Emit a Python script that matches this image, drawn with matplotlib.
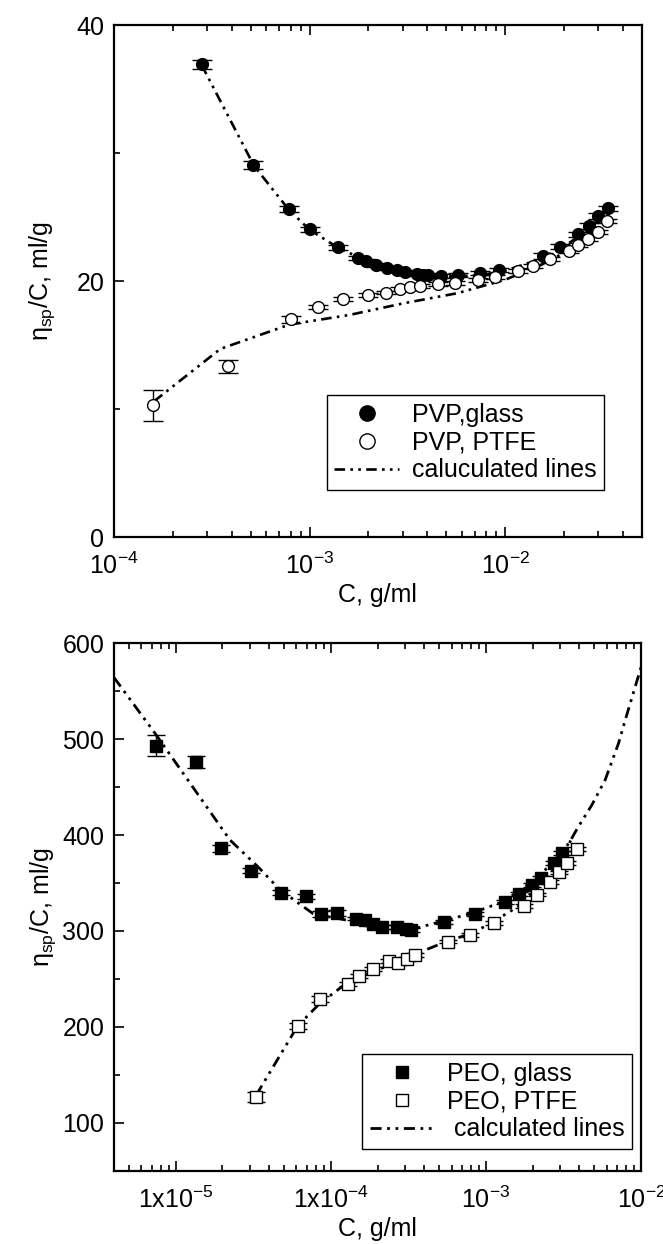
"""
Reduced viscosity vs concentration for PVP and PEO on glass and PTFE.
Two stacked log-x panels, saved as out.png.
"""
import numpy as np
import matplotlib
matplotlib.use("Agg")
import matplotlib.pyplot as plt
from matplotlib.lines import Line2D
from matplotlib.ticker import FixedLocator, LogLocator, MultipleLocator, NullFormatter

plt.rcParams["font.family"] = ["Liberation Sans", "DejaVu Sans"]
plt.rcParams["mathtext.fontset"] = "custom"
plt.rcParams["mathtext.rm"] = "Liberation Sans"
plt.rcParams["mathtext.it"] = "Liberation Sans:italic"
plt.rcParams["mathtext.default"] = "regular"

# ---- top panel: PVP ----
pvp_glass_c = [2.81e-4, 5.16e-4, 7.83e-4, 1.01e-3, 1.39e-3, 1.76e-3, 1.94e-3, 2.19e-3,
               2.50e-3, 2.79e-3, 3.08e-3, 3.53e-3, 3.82e-3, 4.05e-3, 4.71e-3, 5.73e-3,
               7.45e-3, 9.35e-3, 1.56e-2, 1.91e-2, 2.37e-2, 2.70e-2, 3.00e-2, 3.35e-2]
pvp_glass_v = [36.95, 29.06, 25.63, 24.04, 22.63, 21.82, 21.56, 21.25,
               21.04, 20.86, 20.68, 20.52, 20.47, 20.45, 20.39, 20.45,
               20.60, 20.86, 21.95, 22.68, 23.65, 24.30, 25.08, 25.68]
pvp_glass_err = [0.35, 0.3, 0.2, 0.2, 0.2, 0.15, 0.15, 0.15,
                 0.15, 0.15, 0.15, 0.15, 0.15, 0.15, 0.15, 0.15,
                 0.15, 0.15, 0.2, 0.2, 0.2, 0.2, 0.2, 0.2]

pvp_ptfe_c = [1.59e-4, 3.83e-4, 8.0e-4, 1.10e-3, 1.49e-3, 2.0e-3, 2.47e-3, 2.90e-3,
              3.27e-3, 3.65e-3, 4.56e-3, 5.55e-3, 7.25e-3, 8.85e-3, 1.17e-2, 1.39e-2,
              1.70e-2, 2.11e-2, 2.37e-2, 2.65e-2, 3.00e-2, 3.33e-2]
pvp_ptfe_v = [10.3, 13.35, 17.0, 17.95, 18.6, 18.9, 19.1, 19.35,
              19.5, 19.6, 19.75, 19.87, 20.08, 20.29, 20.8, 21.17,
              21.7, 22.37, 22.81, 23.26, 23.85, 24.71]
pvp_ptfe_err = [1.2, 0.5, 0.25, 0.15, 0.15, 0.15, 0.15, 0.15,
                0.15, 0.15, 0.15, 0.15, 0.15, 0.15, 0.15, 0.15,
                0.15, 0.15, 0.15, 0.15, 0.15, 0.15]

pvp_calc_glass_c = [2.8e-4, 5.2e-4, 7.8e-4, 1.0e-3, 1.4e-3, 2.0e-3, 3.0e-3, 5.0e-3,
                    7.5e-3, 1.0e-2, 1.5e-2, 2.0e-2, 2.5e-2, 3.0e-2, 3.4e-2]
pvp_calc_glass_v = [36.9, 29.0, 25.6, 24.0, 22.6, 21.5, 20.75, 20.35,
                    20.45, 20.8, 21.7, 22.7, 23.7, 24.7, 25.6]
pvp_calc_ptfe_c = [1.6e-4, 3.5e-4, 7.9e-4, 1.6e-3, 3.0e-3, 5.7e-3, 1.0e-2, 1.5e-2,
                   2.0e-2, 2.5e-2, 3.3e-2]
pvp_calc_ptfe_v = [10.6, 14.7, 16.6, 17.35, 18.25, 19.05, 20.1, 21.2,
                   22.2, 23.2, 24.7]

# ---- bottom panel: PEO ----
peo_glass_c = [7.5e-6, 1.35e-5, 1.95e-5, 3.05e-5, 4.8e-5, 6.9e-5, 8.65e-5, 1.1e-4,
               1.46e-4, 1.65e-4, 1.88e-4, 2.13e-4, 2.65e-4, 3.04e-4, 3.3e-4, 5.35e-4,
               8.5e-4, 1.33e-3, 1.63e-3, 1.97e-3, 2.25e-3, 2.75e-3, 3.11e-3]
peo_glass_v = [493, 476, 386, 363, 340, 336, 318, 319,
               313, 311, 307, 304, 304, 302, 301, 309,
               318, 330, 338.5, 348, 355.5, 371, 381]
peo_glass_err = [11, 6, 4, 3, 3, 3, 3, 3,
                 2, 2, 2, 2, 2, 2, 2, 2,
                 2, 2, 2, 2, 2, 2, 2]

peo_ptfe_c = [3.27e-5, 6.1e-5, 8.5e-5, 1.28e-4, 1.51e-4, 1.88e-4, 2.36e-4, 2.71e-4,
              3.1e-4, 3.46e-4, 5.65e-4, 7.9e-4, 1.12e-3, 1.75e-3, 2.12e-3, 2.59e-3,
              2.97e-3, 3.35e-3, 3.88e-3]
peo_ptfe_v = [127, 201, 229, 245, 253, 260, 268.5, 266.3,
              271, 275, 289, 296, 308.5, 326, 338, 351,
              361, 371, 385]
peo_ptfe_err = [5.5, 3, 3, 2, 2, 2, 2, 2,
                2, 2, 2, 2, 2, 2, 2, 2,
                2, 2, 2]

peo_calc_glass_c = [4e-6, 7.5e-6, 2.23e-5, 3.48e-5, 4.69e-5, 7.69e-5, 1.5e-4, 3.57e-4,
                    7.9e-4, 1.29e-3, 1.92e-3, 3.0e-3, 3.57e-3, 3.94e-3, 4.81e-3, 5.86e-3,
                    7.15e-3, 7.9e-3, 1.0e-2]
peo_calc_glass_v = [564, 504, 395, 365, 343, 318, 309, 303,
                    318, 330.5, 349.7, 377.4, 396.6, 408.7, 431.2, 457.3,
                    495.5, 519.8, 575]
peo_calc_ptfe_c = [3.3e-5, 6.1e-5, 8.5e-5, 1.26e-4, 3.38e-4, 5.88e-4, 8.2e-4, 1.2e-3,
                   1.67e-3, 2.45e-3, 3.14e-3, 3.57e-3]
peo_calc_ptfe_v = [129, 201, 224.7, 245.5, 275, 290.6, 297.6, 313,
                   327, 356.6, 377.4, 396.6]

CALC_DASH = (4, 2, 1, 2, 1, 2)
FS = 18


def style_axes(ax, xlim, ylim, ymajor, yminor):
    ax.set_xscale("log")
    ax.set_xlim(*xlim)
    ax.set_ylim(*ylim)
    ax.yaxis.set_major_locator(MultipleLocator(ymajor))
    ax.yaxis.set_minor_locator(MultipleLocator(yminor))
    ax.xaxis.set_minor_locator(LogLocator(base=10, subs=np.arange(2, 10)))
    ax.xaxis.set_minor_formatter(NullFormatter())
    ax.tick_params(which="both", direction="in", top=True, right=False,
                   labelsize=FS, width=1.2)
    ax.tick_params(axis="y", which="both", pad=7)
    ax.tick_params(axis="x", which="both", pad=11)
    ax.tick_params(which="major", length=7)
    ax.tick_params(which="minor", length=4)
    for sp in ax.spines.values():
        sp.set_linewidth(1.6)


def draw_points(ax, c, v, err, marker, filled, ms, cap):
    ax.errorbar(c, v, yerr=err, fmt=marker, color="black", ms=ms,
                mfc="black" if filled else "white", mec="black", mew=1.0,
                ecolor="black", elinewidth=1.0, capsize=cap, capthick=1.0, zorder=3)


def add_legend(ax, handles, labels, anchor):
    leg = ax.legend(handles, labels, loc="lower left", bbox_to_anchor=anchor,
                    borderaxespad=0, fontsize=FS, handlelength=2.6, handletextpad=0.5,
                    labelspacing=0.15, borderpad=0.3, fancybox=False, framealpha=1,
                    edgecolor="black")
    leg.get_frame().set_linewidth(1.0)
    return leg


fig = plt.figure(figsize=(6.63, 12.44), dpi=100)

# top panel
ax1 = fig.add_axes([0.172, 0.5683, 0.796, 0.4116])
ax1.plot(pvp_calc_glass_c, pvp_calc_glass_v, color="black", lw=1.9, dashes=CALC_DASH, zorder=2)
ax1.plot(pvp_calc_ptfe_c, pvp_calc_ptfe_v, color="black", lw=1.9, dashes=CALC_DASH, zorder=2)
draw_points(ax1, pvp_glass_c, pvp_glass_v, pvp_glass_err, "o", True, 8.5, 7)
draw_points(ax1, pvp_ptfe_c, pvp_ptfe_v, pvp_ptfe_err, "o", False, 8.5, 7)
style_axes(ax1, (1e-4, 5e-2), (0, 40), 20, 10)
ax1.xaxis.set_major_locator(FixedLocator([1e-4, 1e-3, 1e-2]))
ax1.set_xticklabels([r"$10^{-4}$", r"$10^{-3}$", r"$10^{-2}$"])
ax1.set_xlabel("C, g/ml", fontsize=FS, labelpad=3)
ax1.set_ylabel(r"$\eta_{sp}$/C, ml/g", fontsize=FS, labelpad=14)

h1 = [Line2D([], [], ls="none", marker="o", ms=11, mfc="black", mec="black"),
      Line2D([], [], ls="none", marker="o", ms=11, mfc="white", mec="black", mew=1.0),
      Line2D([], [], color="black", lw=1.9, dashes=CALC_DASH)]
add_legend(ax1, h1, ["PVP,glass", "PVP, PTFE", "caluculated lines"], (0.403, 0.092))

# bottom panel
ax2 = fig.add_axes([0.172, 0.0587, 0.795, 0.4244])
ax2.plot(peo_calc_glass_c, peo_calc_glass_v, color="black", lw=2.0, dashes=CALC_DASH, zorder=2)
ax2.plot(peo_calc_ptfe_c, peo_calc_ptfe_v, color="black", lw=2.0, dashes=CALC_DASH, zorder=2)
draw_points(ax2, peo_glass_c, peo_glass_v, peo_glass_err, "s", True, 8, 6.5)
draw_points(ax2, peo_ptfe_c, peo_ptfe_v, peo_ptfe_err, "s", False, 8, 6.5)
style_axes(ax2, (4e-6, 1e-2), (50, 600), 100, 50)
ax2.yaxis.set_major_locator(FixedLocator([100, 200, 300, 400, 500, 600]))
ax2.xaxis.set_major_locator(FixedLocator([1e-5, 1e-4, 1e-3, 1e-2]))
ax2.set_xticklabels([r"$1x10^{-5}$", r"$1x10^{-4}$", r"$10^{-3}$", r"$10^{-2}$"])
ax2.set_xlabel("C, g/ml", fontsize=FS, labelpad=3)
ax2.set_ylabel(r"$\eta_{sp}$/C, ml/g", fontsize=FS, labelpad=3)

h2 = [Line2D([], [], ls="none", marker="s", ms=9, mfc="black", mec="black"),
      Line2D([], [], ls="none", marker="s", ms=9, mfc="white", mec="black", mew=1.0),
      Line2D([], [], color="black", lw=2.0, dashes=CALC_DASH)]
add_legend(ax2, h2, ["PEO, glass", "PEO, PTFE", " calculated lines"], (0.471, 0.042))

fig.savefig("out.png", dpi=100)
